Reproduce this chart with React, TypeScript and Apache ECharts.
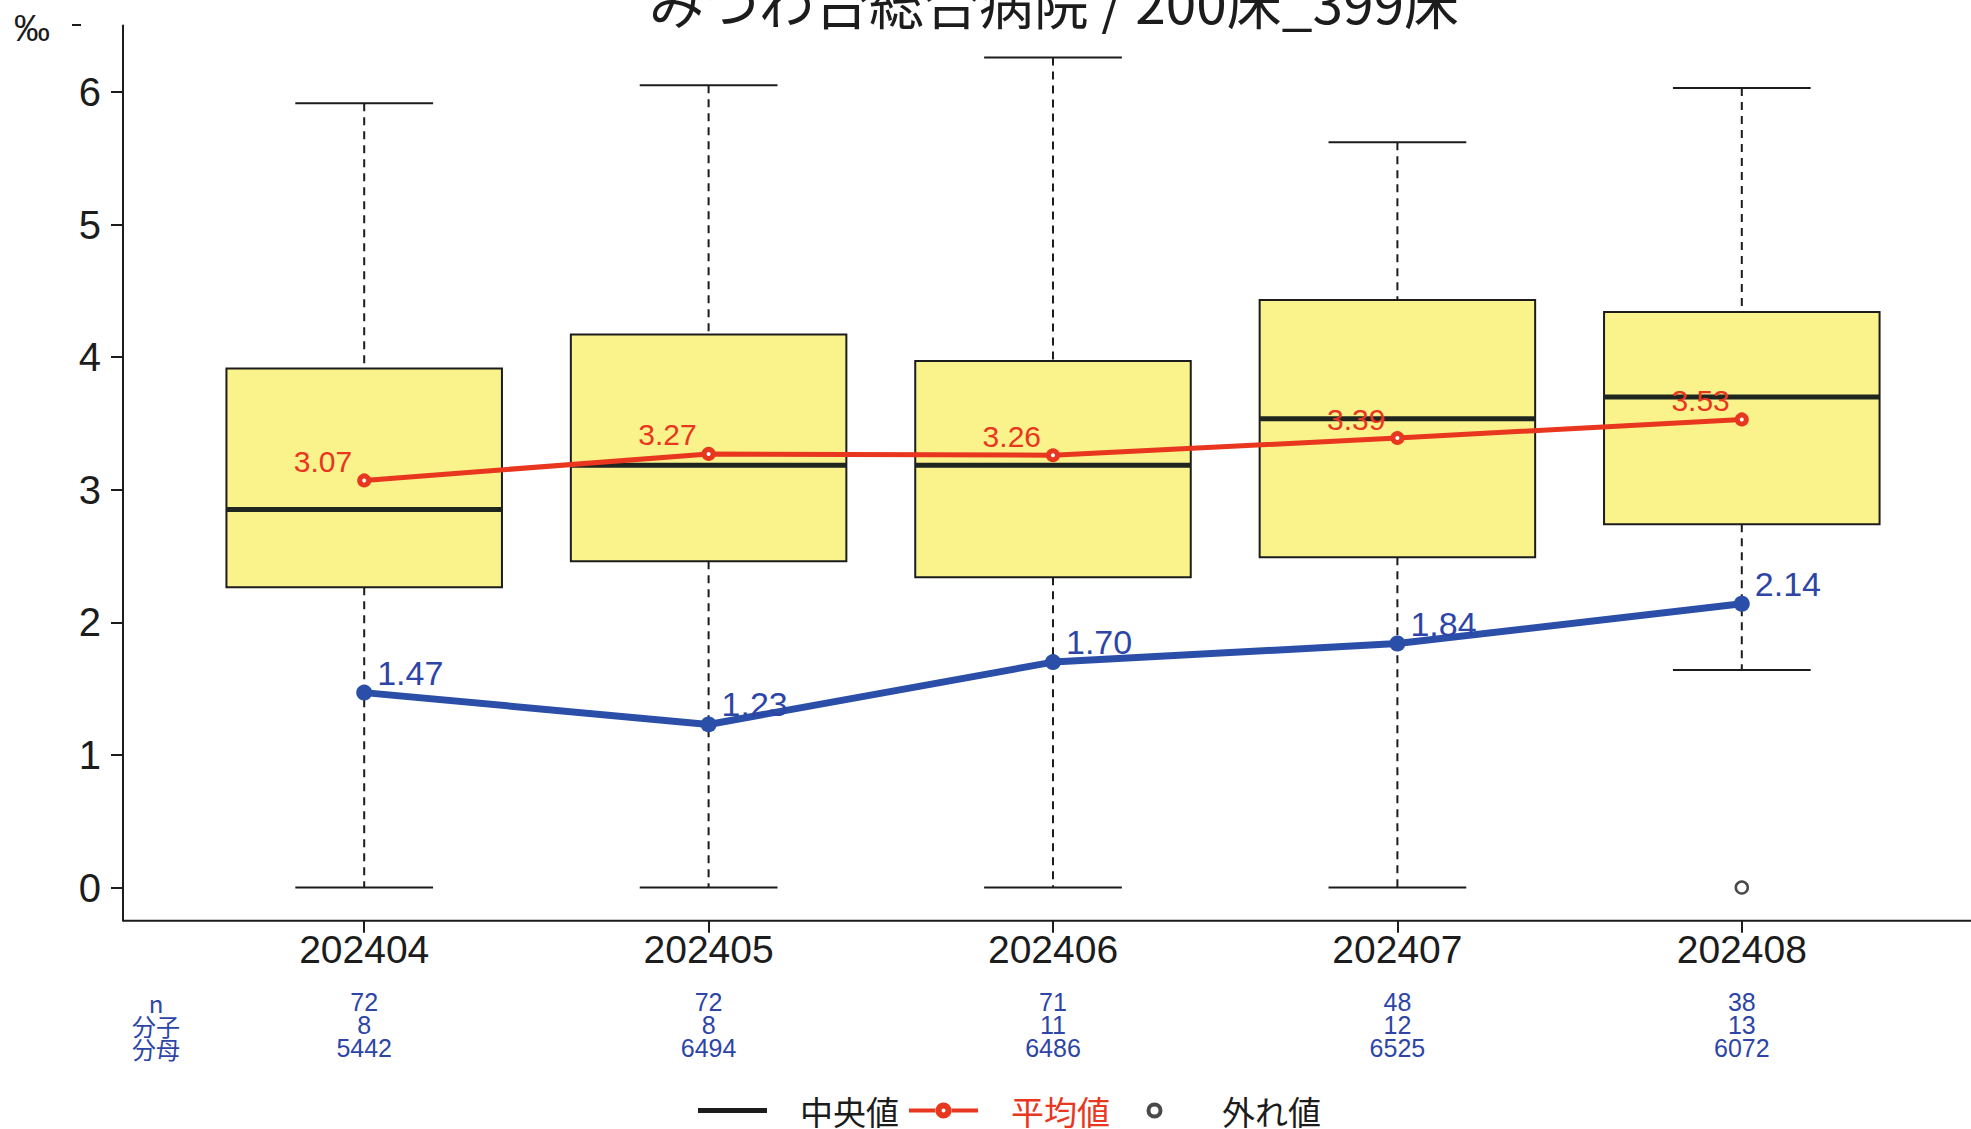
import React, { useEffect, useRef } from 'react';
import * as echarts from 'echarts';

// ---- data ----
const categories = ['202404', '202405', '202406', '202407', '202408'];
const whiskerLow = [0, 0, 0, 0, 1.64];
const q1Values = [2.265, 2.46, 2.34, 2.49, 2.74];
const medianValues = [2.85, 3.185, 3.185, 3.535, 3.7];
const q3Values = [3.915, 4.17, 3.97, 4.43, 4.34];
const whiskerHigh = [5.915, 6.05, 6.26, 5.62, 6.03];
const meanValues = [3.07, 3.27, 3.26, 3.39, 3.53];
const hospitalValues = [1.47, 1.23, 1.7, 1.84, 2.14];
const outlierPoints = [[4, 0]];
const nCounts = [72, 72, 71, 48, 38];
const numerators = [8, 8, 11, 12, 13];
const denominators = [5442, 6494, 6486, 6525, 6072];
const yTicks = [0, 1, 2, 3, 4, 5, 6];
const titleText = 'みつわ台総合病院 / 200床_399床';

const RED = '#e8361f';
const BLUE = '#2b4ea8';
const BLUE_TEXT = '#2d45a6';
const INK = '#1c1c1c';
const SANS = '"Liberation Sans", Arial, sans-serif';
const CJK = '"Noto Sans CJK JP", "Noto Sans", sans-serif';

// legend icons (69 x 16 boxes)
const ICON_MEDIAN = 'path://M0,0 M69,16 M0,5.5 H69 V10.5 H0 Z';
const ICON_MEAN =
  'path://M0,0 M69,16 M0,6 H27 V10 H0 Z M42,6 H69 V10 H42 Z ' +
  'M42.5,8 A8,8 0 1,0 26.5,8 A8,8 0 1,0 42.5,8 Z M36.5,8 A2,2 0 1,1 32.5,8 A2,2 0 1,1 36.5,8 Z';
const ICON_OUTLIER =
  'path://M0,0 M69,16 M42.5,8 A8,8 0 1,0 26.5,8 A8,8 0 1,0 42.5,8 Z M38.5,8 A4,4 0 1,1 30.5,8 A4,4 0 1,1 38.5,8 Z';

export default function App() {
  const ref = useRef<HTMLDivElement>(null);

  useEffect(() => {
    if (!ref.current) return;
    const chart = echarts.init(ref.current, undefined, { renderer: 'svg' });

    const boxData = categories.map((_, i) => [
      i,
      whiskerLow[i],
      q1Values[i],
      medianValues[i],
      q3Values[i],
      whiskerHigh[i],
    ]);

    const option: any = {
      animation: false,
      backgroundColor: '#ffffff',
      grid: { left: 192, right: 57, top: 25.6, bottom: 208.3, containLabel: false },
      xAxis: [
        {
          type: 'category',
          data: categories,
          boundaryGap: true,
          axisLine: { show: false, onZero: false },
          axisTick: { show: true, alignWithLabel: true, length: 12, lineStyle: { color: INK, width: 2 } },
          axisLabel: { fontSize: 39, color: INK, fontFamily: SANS, margin: 9 },
          splitLine: { show: false },
        },
        {
          type: 'category',
          data: categories,
          position: 'bottom',
          offset: 70,
          axisLine: { show: false, onZero: false },
          axisTick: { show: false },
          axisLabel: {
            margin: 0,
            fontSize: 25,
            lineHeight: 23,
            color: BLUE_TEXT,
            fontFamily: SANS,
            formatter: (_v: string, i: number) => `${nCounts[i]}\n${numerators[i]}\n${denominators[i]}`,
          },
          splitLine: { show: false },
        },
      ],
      yAxis: {
        type: 'value',
        min: -0.25,
        max: 6.5,
        offset: 69,
        axisLine: { show: true, lineStyle: { color: INK, width: 2 } },
        axisTick: { show: true, customValues: yTicks, length: 12, lineStyle: { color: INK, width: 2 } },
        axisLabel: { customValues: yTicks, fontSize: 40, color: INK, margin: 22, fontFamily: SANS },
        splitLine: { show: false },
      },
      legend: {
        left: 693,
        top: 1089,
        itemWidth: 69,
        itemHeight: 16,
        itemGap: 10,
        textStyle: { fontSize: 33, color: INK, fontFamily: CJK, padding: [0, 0, 0, 28] },
        data: [
          { name: '中央値', icon: ICON_MEDIAN, itemStyle: { color: INK, borderWidth: 0 } },
          { name: '平均値', icon: ICON_MEAN, itemStyle: { color: RED, borderWidth: 0 }, textStyle: { color: RED } },
          { name: '外れ値', icon: ICON_OUTLIER, itemStyle: { color: INK, borderWidth: 0 } },
        ],
      },
      graphic: [
        {
          type: 'text',
          x: 1054,
          y: 0,
          style: {
            text: titleText,
            fontSize: 55,
            fontFamily: CJK,
            fill: INK,
            textAlign: 'center',
            textVerticalAlign: 'middle',
          },
        },
        {
          type: 'text',
          x: 14,
          y: 28,
          style: { text: '‰', fontSize: 36, fontFamily: SANS, fill: INK, textVerticalAlign: 'middle' },
        },
        {
          type: 'line',
          shape: { x1: 72, y1: 25, x2: 81, y2: 25 },
          style: { stroke: INK, lineWidth: 2 },
        },
        {
          type: 'line',
          shape: { x1: 123, y1: 920.7, x2: 1971, y2: 920.7 },
          style: { stroke: INK, lineWidth: 2 },
        },
        {
          type: 'text',
          x: 156,
          y: 990.5,
          style: {
            text: 'n\n分子\n分母',
            fontSize: 24,
            lineHeight: 23,
            fontFamily: CJK,
            fill: BLUE_TEXT,
            textAlign: 'center',
            textVerticalAlign: 'top',
          },
        },
      ],
      series: [
        {
          type: 'custom',
          name: 'box',
          xAxisIndex: 0,
          data: boxData,
          encode: { x: 0, y: [1, 2, 3, 4, 5] },
          z: 1,
          renderItem: (_params: any, api: any) => {
            const x = api.value(0);
            const lo = api.value(1);
            const b1 = api.value(2);
            const med = api.value(3);
            const b3 = api.value(4);
            const hi = api.value(5);
            const band = api.size([1, 0])[0];
            const boxW = band * 0.8;
            const capW = band * 0.4;
            const cx = api.coord([x, hi])[0];
            const yHi = api.coord([x, hi])[1];
            const yLo = api.coord([x, lo])[1];
            const yQ1 = api.coord([x, b1])[1];
            const yQ3 = api.coord([x, b3])[1];
            const yMed = api.coord([x, med])[1];
            const dash = { stroke: INK, lineWidth: 2, lineDash: [8, 6] };
            const solid = { stroke: INK, lineWidth: 2 };
            return {
              type: 'group',
              children: [
                { type: 'line', shape: { x1: cx, y1: yHi, x2: cx, y2: yQ3 }, style: dash },
                { type: 'line', shape: { x1: cx, y1: yQ1, x2: cx, y2: yLo }, style: dash },
                { type: 'line', shape: { x1: cx - capW / 2, y1: yHi, x2: cx + capW / 2, y2: yHi }, style: solid },
                { type: 'line', shape: { x1: cx - capW / 2, y1: yLo, x2: cx + capW / 2, y2: yLo }, style: solid },
                {
                  type: 'rect',
                  shape: { x: cx - boxW / 2, y: yQ3, width: boxW, height: yQ1 - yQ3 },
                  style: { fill: '#faf28b', stroke: INK, lineWidth: 2 },
                },
                {
                  type: 'line',
                  shape: { x1: cx - boxW / 2, y1: yMed, x2: cx + boxW / 2, y2: yMed },
                  style: { stroke: '#1f2620', lineWidth: 5 },
                },
              ],
            };
          },
        },
        {
          type: 'line',
          name: '中央値',
          data: [],
          symbol: 'none',
          lineStyle: { color: INK, width: 5 },
          itemStyle: { color: INK },
        },
        {
          type: 'line',
          name: '平均値',
          data: meanValues,
          z: 3,
          symbol: 'circle',
          symbolSize: 9,
          showAllSymbol: true,
          lineStyle: { color: RED, width: 5 },
          itemStyle: { color: '#ffffff', borderColor: RED, borderWidth: 5 },
          label: {
            show: true,
            position: 'left',
            offset: [0, -19],
            color: RED,
            fontSize: 30,
            fontFamily: SANS,
            formatter: (p: any) => Number(p.value).toFixed(2),
          },
        },
        {
          type: 'scatter',
          name: '外れ値',
          data: outlierPoints,
          symbol: 'circle',
          symbolSize: 12,
          itemStyle: { color: '#ffffff', borderColor: INK, borderWidth: 2.5 },
          z: 3,
        },
        {
          type: 'line',
          name: '自院',
          data: hospitalValues,
          z: 4,
          symbol: 'circle',
          symbolSize: 16,
          lineStyle: { color: BLUE, width: 7 },
          itemStyle: { color: BLUE },
          label: {
            show: true,
            position: 'right',
            offset: [0, -20],
            color: BLUE_TEXT,
            fontSize: 34,
            fontFamily: SANS,
            formatter: (p: any) => Number(p.value).toFixed(2),
          },
        },
      ],
    };

    chart.setOption(option);
    return () => chart.dispose();
  }, []);

  return (
    <div
      ref={ref}
      style={{ position: 'fixed', left: 0, top: 0, width: 1971, height: 1129, background: '#fff' }}
    />
  );
}
